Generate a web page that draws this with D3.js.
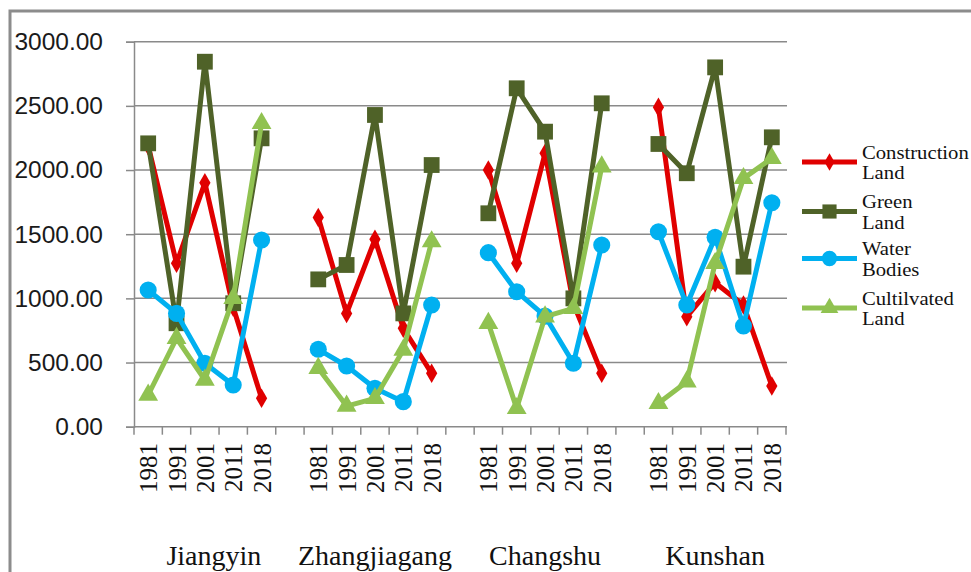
<!DOCTYPE html>
<html>
<head>
<meta charset="utf-8">
<script src="https://cdn.jsdelivr.net/npm/d3@7"></script>
<style>
  html, body { margin: 0; padding: 0; background: #fff; }
  svg { display: block; }
</style>
</head>
<body>
<svg id="chart" width="971" height="572"></svg>
<script>
// Land-use area by city and year
const cities = ["Jiangyin", "Zhangjiagang", "Changshu", "Kunshan"];
const years = ["1981", "1991", "2001", "2011", "2018"];
const yTicks = [0, 500, 1000, 1500, 2000, 2500, 3000];

// values per city, in year order (Jiangyin, Zhangjiagang, Changshu, Kunshan)
const constructionLand = [
  [2190, 1273, 1900, 930, 221],
  [1631, 883, 1460, 767, 416],
  [2000, 1273, 2130, 960, 416],
  [2489, 857, 1122, 948, 317]
];
const greenLand = [
  [2208, 806, 2844, 962, 2247],
  [1148, 1260, 2429, 883, 2039],
  [1663, 2637, 2299, 1000, 2520],
  [2203, 1975, 2800, 1247, 2255]
];
const waterBodies = [
  [1065, 883, 494, 325, 1455],
  [603, 473, 299, 195, 948],
  [1356, 1052, 862, 494, 1416],
  [1519, 948, 1476, 785, 1745]
];
const cultivatedLand = [
  [247, 689, 364, 1000, 2364],
  [455, 161, 221, 598, 1442],
  [806, 143, 857, 922, 2026],
  [182, 351, 1273, 1935, 2091]
];

const seriesNames = [["Construction", "Land"], ["Green", "Land"], ["Water", "Bodies"], ["Cultilvated", "Land"]];
const seriesColors = ["#e00000", "#4f6228", "#00b0f0", "#90c251"];
const seriesSymbols = [d3.symbolDiamond, d3.symbolSquare, d3.symbolCircle, d3.symbolTriangle];
const symbolSizes = [110, 250, 230, 170];
const seriesData = [constructionLand, greenLand, waterBodies, cultivatedLand];

// category slots: five years per city with an empty slot between cities
const slots = [];
cities.forEach((c, ci) => {
  years.forEach(y => slots.push(c + "|" + y));
  if (ci < cities.length - 1) slots.push("gap" + ci);
});

const svg = d3.select("#chart");
const plot = { left: 134, right: 786, top: 41.7, bottom: 426.7 };

const x = d3.scaleBand().domain(slots).range([plot.left, plot.right]).paddingInner(0).paddingOuter(0);
const y = d3.scaleLinear().domain([0, 3000]).range([plot.bottom, plot.top]);

const gridColor = "#8a8a8a";
const serif = "'Liberation Serif', 'Times New Roman', serif";

// outer frame
svg.append("path")
  .attr("d", "M10,572 L10,11 L971,11")
  .attr("fill", "none")
  .attr("stroke", "#8c8c8c")
  .attr("stroke-width", 3);

// horizontal gridlines
svg.append("g")
  .selectAll("line")
  .data(yTicks.filter(t => t > 0))
  .join("line")
  .attr("x1", plot.left).attr("x2", plot.right + 1)
  .attr("y1", d => y(d)).attr("y2", d => y(d))
  .attr("stroke", gridColor).attr("stroke-width", 1.5);

// y axis
const yAxis = svg.append("g")
  .attr("transform", `translate(${plot.left},0)`)
  .call(d3.axisLeft(y).tickValues(yTicks).tickSize(8).tickPadding(23).tickFormat(d3.format(".2f")));
yAxis.select(".domain").attr("stroke", gridColor).attr("stroke-width", 1.5);
yAxis.selectAll(".tick line").attr("stroke", gridColor).attr("stroke-width", 1.5);
yAxis.selectAll(".tick text")
  .attr("fill", "#1a1a1a")
  .attr("font-family", "'Liberation Sans', Arial, sans-serif")
  .attr("font-size", 24.5);

// x axis: line with ticks at slot boundaries
const xAxisG = svg.append("g");
xAxisG.append("line")
  .attr("x1", plot.left).attr("x2", plot.right + 1)
  .attr("y1", plot.bottom).attr("y2", plot.bottom)
  .attr("stroke", gridColor).attr("stroke-width", 1.5);
const bounds = slots.map(s => x(s)).concat([x(slots[slots.length - 1]) + x.bandwidth()]);
xAxisG.selectAll("line.tk")
  .data(bounds)
  .join("line")
  .attr("class", "tk")
  .attr("x1", d => d).attr("x2", d => d)
  .attr("y1", plot.bottom).attr("y2", plot.bottom + 8)
  .attr("stroke", gridColor).attr("stroke-width", 1.5);

// year labels, rotated
const yearSlots = slots.filter(s => !s.startsWith("gap"));
xAxisG.selectAll("text.yr")
  .data(yearSlots)
  .join("text")
  .attr("class", "yr")
  .attr("transform", d => `translate(${x(d) + x.bandwidth() / 2 + 9},443) rotate(-90)`)
  .attr("text-anchor", "end")
  .attr("font-family", serif)
  .attr("font-size", 25)
  .attr("fill", "#111")
  .text(d => d.split("|")[1]);

// city labels
svg.append("g")
  .selectAll("text")
  .data(cities)
  .join("text")
  .attr("x", (c, i) => x(c + "|" + years[2]) + x.bandwidth() / 2 + (i === 0 ? 9 : 0))
  .attr("y", 565)
  .attr("text-anchor", "middle")
  .attr("font-family", serif)
  .attr("font-size", 28)
  .attr("fill", "#111")
  .text(c => c);

// series lines and markers
const line = d3.line().x(d => x(d.key) + x.bandwidth() / 2).y(d => y(d.v));

seriesData.forEach((cityVals, si) => {
  const g = svg.append("g");
  cities.forEach((c, ci) => {
    const pts = years.map((yr, yi) => ({ key: c + "|" + yr, v: cityVals[ci][yi] }));
    g.append("path")
      .datum(pts)
      .attr("d", line)
      .attr("fill", "none")
      .attr("stroke", seriesColors[si])
      .attr("stroke-width", 5)
      .attr("stroke-linejoin", "round");
    g.selectAll(null)
      .data(pts)
      .join("path")
      .attr("transform", d => `translate(${x(d.key) + x.bandwidth() / 2},${y(d.v)})`)
      .attr("d", d3.symbol().type(seriesSymbols[si]).size(symbolSizes[si]))
      .attr("fill", seriesColors[si]);
  });
});

// legend
const legendY = [162, 211.5, 258.5, 308];
const legend = svg.append("g");
seriesNames.forEach((name, si) => {
  const ly = legendY[si];
  legend.append("line")
    .attr("x1", 802).attr("x2", 857)
    .attr("y1", ly).attr("y2", ly)
    .attr("stroke", seriesColors[si]).attr("stroke-width", 5);
  legend.append("path")
    .attr("transform", `translate(829.5,${ly})`)
    .attr("d", d3.symbol().type(seriesSymbols[si]).size(symbolSizes[si] * 0.8))
    .attr("fill", seriesColors[si]);
  const tg = legend.append("g")
    .attr("transform", `translate(862,${ly - 3.5}) scale(1.1,1)`);
  name.forEach((w, i) => {
    tg.append("text")
      .attr("x", 0)
      .attr("y", i * 21)
      .attr("font-family", serif)
      .attr("font-size", 18.8)
      .attr("fill", "#111")
      .text(w);
  });
});
</script>
</body>
</html>
